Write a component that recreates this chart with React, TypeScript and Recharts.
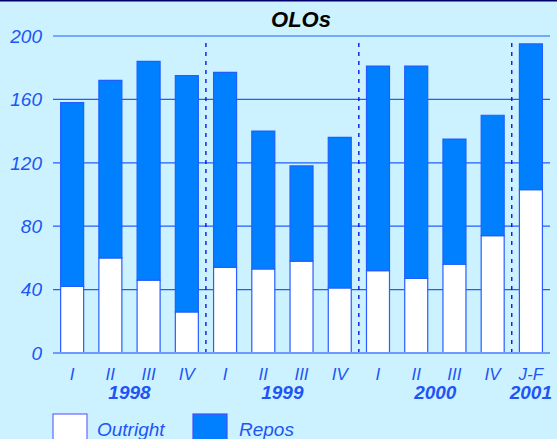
import { Bar, BarChart, CartesianGrid, ReferenceLine, XAxis, YAxis } from "recharts";

const quarters = ["I", "II", "III", "IV", "I", "II", "III", "IV", "I", "II", "III", "IV", "J-F"];
const years = ["1998", "1998", "1998", "1998", "1999", "1999", "1999", "1999", "2000", "2000", "2000", "2000", "2001"];
const outright = [42, 60, 46, 26, 54, 53, 58, 41, 52, 47, 56, 74, 103];
const repos = [116, 112, 138, 149, 123, 87, 60, 95, 129, 134, 79, 76, 92];
const yTicks = [0, 40, 80, 120, 160, 200];
const separatorTop = 196;

const W = 557;
const H = 439;
const M = { top: 36, right: 7, bottom: 0, left: 0 };
const Y_W = 53;
const X_H = 86;
const BAND = (W - M.left - M.right - Y_W) / quarters.length;

const BLUE = "#1f55f5";
const FONT = "'Liberation Sans', Arial, sans-serif";

const data = quarters.map((q, i) => ({
  key: `${years[i]}-${q}`,
  quarter: q,
  year: years[i],
  outright: outright[i],
  repos: repos[i],
}));

// separators sit after the last quarter of each year
const separators = data.filter((d, i) => i < data.length - 1 && data[i + 1].year !== d.year).map((d) => d.key);

function QuarterTick(props: any) {
  const { x, y, payload } = props;
  const i = payload.index;
  const year = years[i];
  const first = years.indexOf(year);
  const count = years.filter((v) => v === year).length;
  const center = first + (count - 1) / 2;
  const showYear = i === Math.floor(center);
  const shift = (center - i) * BAND;
  return (
    <g>
      <text x={x} y={y + 27} textAnchor="middle" fill={BLUE} fontSize={17} fontStyle="italic" fontFamily={FONT}>
        {quarters[i]}
      </text>
      {showYear && (
        <text x={x + shift} y={y + 46} textAnchor="middle" fill={BLUE} fontSize={19} fontStyle="italic" fontWeight="bold" fontFamily={FONT}>
          {year}
        </text>
      )}
    </g>
  );
}

export default function App() {
  return (
    <div style={{ position: "absolute", left: 0, top: 0, width: W, height: H, background: "#ccf2ff" }}>
      <BarChart width={W} height={H} data={data} margin={M} barCategoryGap="20%">
        <rect x={0} y={0} width={W} height={1.5} fill="#00006b" />
        <text x={301} y={27} textAnchor="middle" fontSize={22} fontWeight="bold" fontStyle="italic" fontFamily={FONT} fill="#000">
          OLOs
        </text>
        <CartesianGrid horizontal vertical={false} stroke="#1f5fff" strokeWidth={1.2} />
        <XAxis
          dataKey="key"
          height={X_H}
          interval={0}
          tickLine={false}
          tickSize={0}
          tickMargin={0}
          axisLine={{ stroke: "#6f9bff", strokeWidth: 2 }}
          tick={<QuarterTick />}
        />
        <YAxis
          width={Y_W}
          domain={[0, 200]}
          ticks={yTicks}
          axisLine={false}
          tickLine={false}
          tickSize={0}
          tickMargin={11}
          tick={{ fill: BLUE, fontSize: 19, fontStyle: "italic", fontFamily: FONT }}
        />
        <Bar dataKey="outright" stackId="a" fill="#ffffff" stroke="#2a5cff" strokeWidth={1.2} isAnimationActive={false} />
        <Bar dataKey="repos" stackId="a" fill="#0080ff" stroke="#1f5fff" strokeWidth={1.2} isAnimationActive={false} />
        {separators.map((k) => (
          <ReferenceLine
            key={k}
            position="end"
            segment={[
              { x: k, y: 0 },
              { x: k, y: separatorTop },
            ]}
            stroke="#0000ee"
            strokeWidth={1.3}
            strokeDasharray="4 5"
          />
        ))}
        <g fontFamily={FONT}>
          <rect x={53} y={414} width={34} height={30} fill="#ffffff" stroke="#6666ff" strokeWidth={1.2} />
          <text x={97} y={436} fill={BLUE} fontSize={19} fontStyle="italic">
            Outright
          </text>
          <rect x={193} y={414} width={34} height={30} fill="#0080ff" stroke="#4a4aff" strokeWidth={1.2} />
          <text x={239} y={436} fill={BLUE} fontSize={19} fontStyle="italic">
            Repos
          </text>
        </g>
      </BarChart>
    </div>
  );
}
